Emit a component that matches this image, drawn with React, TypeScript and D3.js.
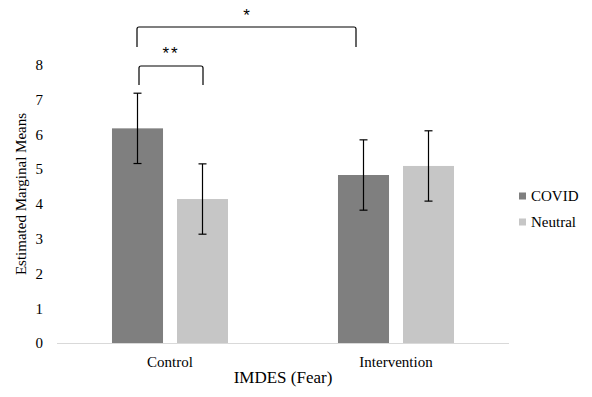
import * as d3 from "d3";

const groups = ["Control", "Intervention"];
const seriesNames = ["COVID", "Neutral"];
const covidMeans = [6.18, 4.84];
const neutralMeans = [4.15, 5.1];
const covidErr = [1.01, 1.01];
const neutralErr = [1.01, 1.01];
const yTicks = [0, 1, 2, 3, 4, 5, 6, 7, 8];

const colors = { COVID: "#7f7f7f", Neutral: "#c6c6c6" };
const serif = "Liberation Serif, Times New Roman, DejaVu Serif, serif";
const txt = { fontFamily: serif };

export default function App() {
  const w = 592;
  const h = 397;

  const x0 = d3.scaleBand().domain(groups).range([57, 509]);
  const x1 = d3
    .scaleBand()
    .domain(seriesNames)
    .range([0, x0.bandwidth()])
    .paddingInner(0.215)
    .paddingOuter(0.846);
  const y = d3.scaleLinear().domain([0, 8]).range([343.5, 65]);

  const rows = groups.map((g, i) => ({
    group: g,
    bars: [
      { key: "COVID", value: covidMeans[i], err: covidErr[i] },
      { key: "Neutral", value: neutralMeans[i], err: neutralErr[i] },
    ],
  }));

  const cx = (g: string, s: string) => (x0(g) ?? 0) + (x1(s) ?? 0) + x1.bandwidth() / 2;

  // significance brackets
  const bracket = (xa: number, xb: number, top: number, bottom: number) =>
    `M${xa},${bottom} L${xa},${top + 2} Q${xa},${top} ${xa + 2},${top} L${xb - 2},${top} Q${xb},${top} ${xb},${top + 2} L${xb},${bottom}`;

  const smallA = cx("Control", "COVID") + 1.5;
  const smallB = cx("Control", "Neutral") + 0.5;
  const bigA = cx("Control", "COVID") - 0.5;
  const bigB = cx("Intervention", "COVID") - 7.5;

  return (
    <svg
      width={w}
      height={h}
      style={{ position: "absolute", left: 0, top: 0, background: "#fff" }}
    >
      {/* y tick labels */}
      {yTicks.map((t) => (
        <text key={t} x={43} y={y(t)} dy="0.33em" textAnchor="end" fontSize={15} fill="#000" style={txt}>
          {t}
        </text>
      ))}

      {/* bars */}
      {rows.map((r) =>
        r.bars.map((b) => (
          <rect
            key={r.group + b.key}
            x={(x0(r.group) ?? 0) + (x1(b.key) ?? 0)}
            y={y(b.value)}
            width={x1.bandwidth()}
            height={y(0) - y(b.value)}
            fill={colors[b.key as keyof typeof colors]}
          />
        ))
      )}

      {/* baseline */}
      <line x1={57} x2={509} y1={y(0)} y2={y(0)} stroke="#d9d9d9" strokeWidth={1.2} />

      {/* error bars */}
      {rows.map((r) =>
        r.bars.map((b) => {
          const c = cx(r.group, b.key);
          const hi = y(b.value + b.err);
          const lo = y(b.value - b.err);
          return (
            <g key={"e" + r.group + b.key} stroke="#000" strokeWidth={1.2}>
              <line x1={c} x2={c} y1={hi} y2={lo} />
              <line x1={c - 4} x2={c + 4} y1={hi} y2={hi} />
              <line x1={c - 4} x2={c + 4} y1={lo} y2={lo} />
            </g>
          );
        })
      )}

      {/* category labels */}
      {groups.map((g) => (
        <text
          key={g}
          x={(x0(g) ?? 0) + x0.bandwidth() / 2}
          y={367}
          textAnchor="middle"
          fontSize={15}
          fill="#000"
          style={txt}
        >
          {g}
        </text>
      ))}

      {/* axis titles */}
      <text x={283} y={383} textAnchor="middle" fontSize={17} fill="#000" style={txt}>
        IMDES (Fear)
      </text>
      <text
        transform={`translate(26,194) rotate(-90)`}
        textAnchor="middle"
        fontSize={15}
        fill="#000"
        style={txt}
      >
        Estimated Marginal Means
      </text>

      {/* brackets */}
      <path d={bracket(bigA, bigB, 27, 47)} fill="none" stroke="#000" strokeWidth={1.2} />
      <path d={bracket(smallA, smallB, 66, 85)} fill="none" stroke="#000" strokeWidth={1.2} />
      <text
        x={(bigA + bigB) / 2}
        y={21}
        textAnchor="middle"
        fontSize={17}
        fill="#000"
        style={{ fontFamily: "Liberation Sans, Arial, sans-serif" }}
      >
        *
      </text>
      <text
        x={(smallA + smallB) / 2}
        y={59}
        textAnchor="middle"
        fontSize={17}
        letterSpacing={2}
        fill="#000"
        style={{ fontFamily: "Liberation Sans, Arial, sans-serif" }}
      >
        **
      </text>

      {/* legend */}
      {seriesNames.map((s, i) => (
        <g key={s} transform={`translate(519,${192.5 + i * 26})`}>
          <rect width={7} height={7} fill={colors[s as keyof typeof colors]} />
          <text x={12} y={3.5} dy="0.35em" fontSize={15} fill="#000" style={txt}>
            {s}
          </text>
        </g>
      ))}
    </svg>
  );
}
